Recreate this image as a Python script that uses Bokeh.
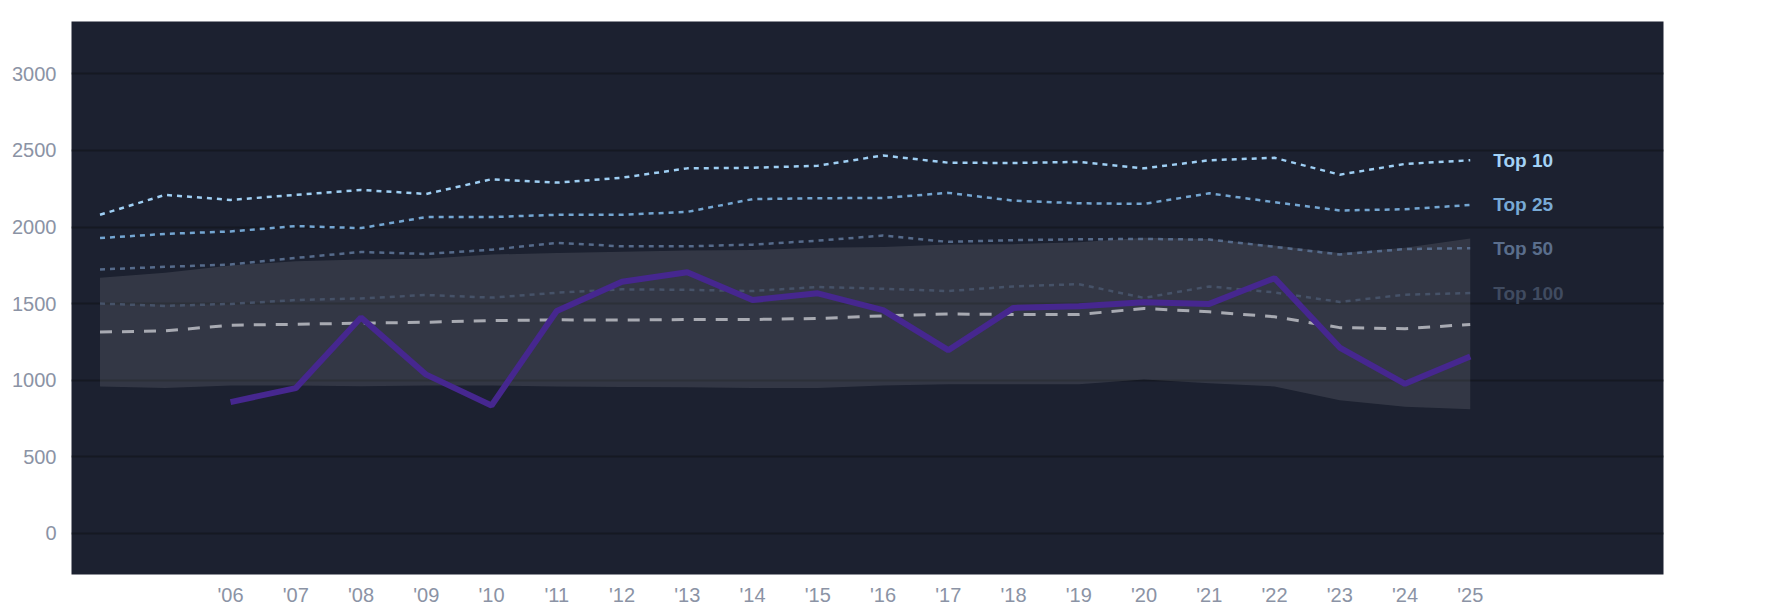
from bokeh.plotting import figure
from bokeh.models import FixedTicker, Range1d, ColumnDataSource
from bokeh.core.properties import value
from bokeh.embed import file_html
from bokeh.resources import INLINE

years = list(range(2004, 2026))
top10 = [2080, 2210, 2177, 2210, 2242, 2216, 2312, 2290, 2322, 2383, 2387,
         2400, 2467, 2420, 2418, 2425, 2383, 2436, 2452, 2342, 2412, 2436]
top25 = [1928, 1955, 1971, 2006, 1993, 2065, 2065, 2080, 2080, 2099, 2182,
         2188, 2190, 2223, 2172, 2155, 2151, 2220, 2162, 2108, 2116, 2144]
top50 = [1723, 1740, 1755, 1798, 1837, 1824, 1852, 1896, 1874, 1874, 1885,
         1911, 1944, 1903, 1914, 1920, 1922, 1918, 1871, 1821, 1856, 1862]
top100 = [1500, 1485, 1498, 1523, 1534, 1556, 1539, 1571, 1593, 1590, 1582,
          1608, 1597, 1582, 1612, 1627, 1537, 1612, 1573, 1511, 1558, 1569]
median_line = [1314, 1322, 1359, 1365, 1372, 1378, 1389, 1394, 1392, 1396, 1396,
               1403, 1420, 1432, 1429, 1429, 1468, 1446, 1414, 1343, 1336, 1364]
band_hi = [1669, 1701, 1749, 1777, 1788, 1792, 1820, 1831, 1838, 1846, 1850,
           1865, 1870, 1886, 1888, 1900, 1930, 1922, 1880, 1830, 1865, 1925]
band_lo = [959, 948, 965, 965, 961, 965, 965, 958, 955, 953, 948,
           948, 965, 974, 974, 974, 1004, 980, 959, 869, 826, 810]
player_years = list(range(2006, 2026))
player = [857, 948, 1409, 1036, 835, 1452, 1643, 1705, 1523, 1567,
          1457, 1196, 1472, 1483, 1509, 1498, 1666, 1213, 976, 1155]

label_names = ["Top 10", "Top 25", "Top 50", "Top 100"]
y_ticks = [0, 500, 1000, 1500, 2000, 2500, 3000]
x_ticks = list(range(2006, 2026))
x_tick_labels = ["'06", "'07", "'08", "'09", "'10", "'11", "'12", "'13", "'14", "'15",
                 "'16", "'17", "'18", "'19", "'20", "'21", "'22", "'23", "'24", "'25"]

FONT = "Liberation Sans"
tier_colors = ["#9fcff4", "#74a6d2", "#566b8b", "#465268"]
label_colors = ["#a3d2f6", "#78aad6", "#5a6e8c", "#404b60"]

p = figure(width=1780, height=608,
           x_range=Range1d(2003.563, 2027.962), y_range=Range1d(-269, 3342),
           output_backend="svg", toolbar_location=None,
           min_border_left=71, min_border_right=117, min_border_top=21,
           min_border_bottom=31)
p.background_fill_color = "#1c2130"
p.border_fill_color = "white"
p.outline_line_color = None
p.xgrid.visible = False
p.ygrid.grid_line_color = "#151922"
p.ygrid.grid_line_width = 2
p.ygrid.ticker = FixedTicker(ticks=y_ticks)

p.yaxis.ticker = FixedTicker(ticks=y_ticks)
p.xaxis.ticker = FixedTicker(ticks=x_ticks)
p.xaxis.major_label_overrides = {t: l for t, l in zip(x_ticks, x_tick_labels)}
for ax in (p.xaxis, p.yaxis):
    ax.axis_line_color = None
    ax.major_tick_line_color = None
    ax.minor_tick_line_color = None
    ax.major_label_text_font = FONT
    ax.major_label_text_font_size = "20px"
    ax.major_label_text_color = "#8b93a5"
p.yaxis.major_label_standoff = 9
p.xaxis.major_label_standoff = 3

p.varea(x=years, y1=band_lo, y2=band_hi, fill_color="white", fill_alpha=0.1)

p.line(years, median_line, line_color="#a8aab2", line_width=3, line_dash="12 10")
for series, col in zip([top100, top50, top25, top10], tier_colors[::-1]):
    p.line(years, series, line_color=col, line_width=2.5, line_dash="5 5")

p.line(player_years, player, line_color="#46278f", line_width=6)

last_vals = [top10[-1], top25[-1], top50[-1], top100[-1]]
src = ColumnDataSource(dict(x=[years[-1]] * 4, y=last_vals, text=label_names,
                            color=label_colors))
p.text(x="x", y="y", text="text", source=src, x_offset=23, text_baseline="middle",
       text_align="left", text_color="color", text_font=value(FONT),
       text_font_style="bold", text_font_size="19px")

open("out.html", "w").write(file_html(p, INLINE))
